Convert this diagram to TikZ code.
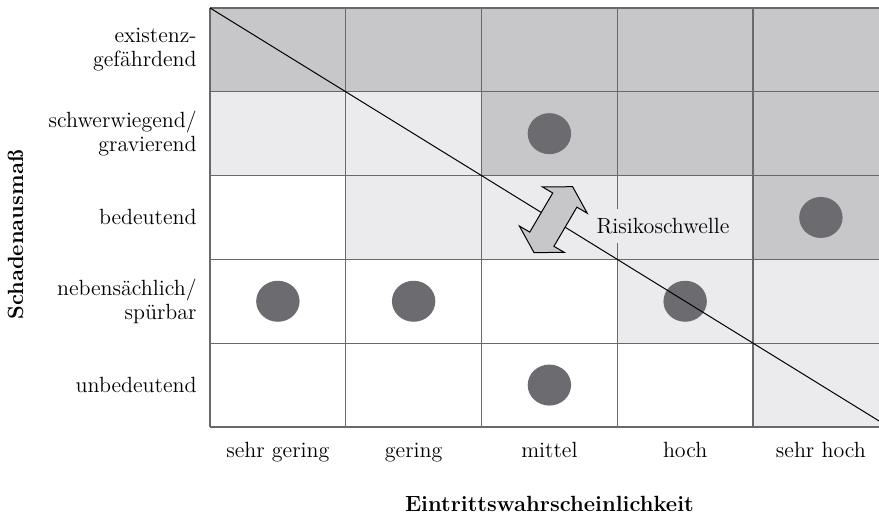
\documentclass[tikz,border=0pt]{standalone}
\usepackage{xcolor}
\usepackage{tikz}
\usetikzlibrary{positioning,calc}

\definecolor{shadeW}{RGB}{255,255,255}
\definecolor{shadeL}{RGB}{235,235,237}
\definecolor{shadeD}{RGB}{199,199,201}
\definecolor{dotGray}{RGB}{108,108,112}
\definecolor{gridGray}{RGB}{105,105,105}

\tikzset{
  rowlabel/.style={anchor=east, align=right, inner sep=0pt},
  collabel/.style={anchor=base, inner sep=0pt},
  axislabel/.style={anchor=base, inner sep=0pt, font=\fontsize{11}{12}\selectfont\bfseries},
}

\begin{document}
\begin{tikzpicture}[x=67.875pt, y=41.9pt, font=\fontsize{11}{12}\selectfont]
        \useasboundingbox (-1.547,-1.074) rectangle (4.928,5.095);
        \clip (-1.547,-1.074) rectangle (4.928,5.095);

        % Cell shading, rows from the bottom
        \foreach \shades [count=\r from 0] in {{W,W,W,W,L},{W,W,W,L,L},{W,L,L,L,D},{L,L,D,D,D},{D,D,D,D,D}} {
           \foreach \s [count=\c from 0] in \shades
              \fill[shade\s] (\c,\r) rectangle ++(1,1);
        }
        \draw[gridGray, line width=0.6pt, step=1] (0,0) grid (5,5);

        % Risks
        \foreach \c/\r in {0/1, 1/1, 2/0, 2/3, 3/1, 4/2} {
           \fill[dotGray] (\c+0.5,\r+0.5) ellipse [x radius=10.85pt, y radius=10.25pt];
        }

        % Threshold
        \draw[line width=0.5pt] (0,5) -- (5,0);
        \begin{scope}[shift={(2.529,2.474)}, rotate=59.6, x=1pt, y=1pt]
           \draw[fill=shadeD, line width=0.5pt, line join=miter] (19.1,0) -- (11.35,13) -- (11.35,7) -- (-11.35,7) -- (-11.35,13) -- (-19.1,0) -- (-11.35,-13) -- (-11.35,-7) -- (11.35,-7) -- (11.35,-13) -- cycle;
        \end{scope}
        \node[fill=shadeL, inner xsep=2pt, inner ysep=4.5pt, anchor=base] (schwelle) at (3.337,2.309) {Risikoschwelle};

        % Axes
        \foreach \txt [count=\r from 0] in {unbedeutend, {nebens\"achlich/\\sp\"urbar}, bedeutend, {schwerwiegend/\\gravierend}, {existenz-\\gef\"ahrdend}} {
           \node[rowlabel] (row\r) at ([xshift=-6.5pt]0,\r+0.5) {\txt};
        }
        \foreach \txt [count=\c from 0] in {sehr gering, gering, mittel, hoch, sehr hoch} {
           \node[collabel] (col\c) at ([yshift=-15.5pt]\c+0.5,0) {\txt};
        }
        \node[axislabel] (xaxis) at ([yshift=-42.3pt]2.5,0) {Eintrittswahrscheinlichkeit};
        \node[axislabel, rotate=90] (yaxis) at (-1.3775,2.291) {Schadenausma\ss};
    \end{tikzpicture}
\end{document}
